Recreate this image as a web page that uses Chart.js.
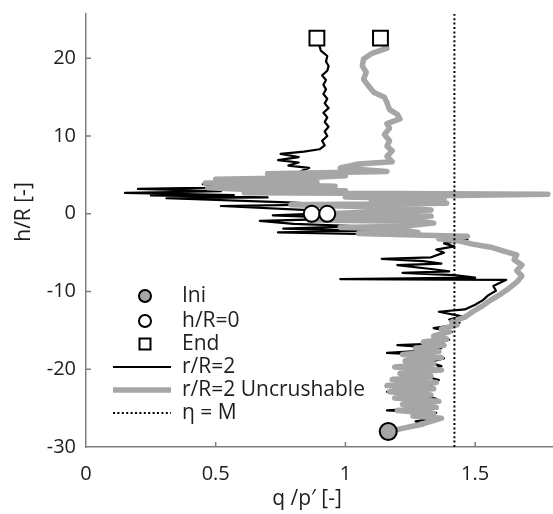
<!DOCTYPE html>
<html>
<head>
<meta charset="utf-8">
<script src="https://cdn.jsdelivr.net/npm/chart.js@4/dist/chart.umd.min.js"></script>
<style>
  html, body { margin: 0; padding: 0; background: #ffffff; }
  canvas { display: block; }
</style>
</head>
<body>
<canvas id="chart" width="553" height="514"></canvas>
<script>
// Stress ratio q/p' against normalised height h/R, pile with r/R = 2
const crushQ = [1.16,1.22,1.30,1.27,1.34,1.29,1.35,1.16,1.27,1.33,1.28,1.35,1.30,1.16,1.27,1.34,1.29,1.36,1.31,1.21,
  1.33,1.37,1.32,1.38,1.33,1.16,1.31,1.37,1.20,1.35,1.40,1.36,1.41,1.34,1.40,1.44,1.40,1.45,1.36,1.46,
  1.50,1.53,1.55,1.58,1.57,1.60,1.62,0.98,1.50,1.42,1.22,1.40,1.33,1.20,1.37,1.30,1.14,1.33,1.38,1.35,
  1.42,1.38,1.47,1.41,1.19,0.74,1.10,0.76,1.06,0.80,0.67,1.04,0.72,0.87,0.90,0.52,0.95,0.75,0.31,0.70,
  0.25,0.57,0.15,0.52,0.20,0.55,0.45,0.62,0.80,0.86,0.90,0.83,0.86,0.78,0.82,0.74,0.82,0.75,0.84,0.90,
  0.92,0.91,0.93,0.92,0.935,0.92,0.93,0.915,0.935,0.92,0.93,0.915,0.925,0.915,0.925,0.91,0.93,0.935,0.925,0.93,
  0.905,0.90,0.89];
const crushH = [-28.0,-27.7,-27.2,-26.7,-26.3,-25.9,-25.6,-25.3,-25.1,-24.7,-24.2,-23.8,-23.4,-22.9,-22.7,-22.3,-21.8,-21.4,-20.9,-20.4,
  -20.1,-19.6,-19.1,-18.6,-18.2,-17.9,-17.6,-17.3,-16.9,-16.7,-16.2,-15.7,-15.2,-14.7,-14.4,-14.0,-13.6,-13.2,-12.6,-12.3,
  -11.7,-11.1,-10.5,-9.9,-9.3,-8.8,-8.5,-8.4,-8.2,-7.9,-7.6,-7.4,-7.1,-6.6,-6.4,-6.1,-5.8,-5.6,-5.0,-4.6,
  -4.2,-3.8,-3.3,-3.0,-2.7,-2.4,-2.2,-1.9,-1.6,-1.3,-0.9,-0.6,-0.2,0.0,0.4,1.0,1.2,1.5,2.0,2.1,
  2.35,2.4,2.7,2.9,3.2,3.4,3.8,4.1,4.4,4.8,5.2,5.5,5.9,6.2,6.6,6.9,7.3,7.7,8.0,8.3,
  8.8,9.4,10.0,10.6,11.2,11.8,12.4,13.0,13.6,14.2,14.8,15.4,16.0,16.6,17.2,17.8,18.4,19.0,19.6,20.3,
  21.0,21.6,22.6];

// Same pile, uncrushable soil
const uncrushQ = [1.165,1.22,1.29,1.33,1.37,1.26,1.34,1.20,1.35,1.22,1.36,1.19,1.33,1.17,1.34,1.16,1.35,1.18,1.33,1.21,
  1.37,1.19,1.34,1.23,1.37,1.22,1.36,1.27,1.38,1.30,1.39,1.34,1.40,1.37,1.43,1.41,1.46,1.49,1.53,1.56,
  1.60,1.63,1.66,1.68,1.66,1.68,1.65,1.66,1.61,1.56,1.49,1.44,1.36,1.47,1.30,1.05,1.28,1.18,0.98,1.22,
  1.34,1.30,0.86,1.15,1.33,0.93,1.05,1.33,1.20,0.79,1.39,1.10,1.38,1.00,1.78,1.20,0.61,1.00,0.60,0.47,
  0.96,0.75,0.46,0.89,0.70,0.50,0.84,1.00,0.70,1.16,0.98,1.05,1.18,1.16,1.18,1.16,1.17,1.15,1.17,1.16,
  1.21,1.20,1.17,1.16,1.15,1.11,1.09,1.07,1.08,1.065,1.07,1.10,1.16,1.135];
const uncrushH = [-28.0,-27.6,-27.1,-26.7,-26.3,-26.0,-25.7,-25.3,-24.9,-24.5,-24.1,-23.7,-23.3,-22.9,-22.5,-22.1,-21.7,-21.3,-20.9,-20.5,
  -20.1,-19.7,-19.3,-18.9,-18.5,-18.1,-17.7,-17.3,-16.9,-16.5,-16.1,-15.7,-15.2,-14.8,-14.3,-13.9,-13.3,-12.6,-11.8,-11.1,
  -10.3,-9.6,-8.8,-8.0,-7.3,-6.6,-5.9,-5.3,-4.8,-4.3,-3.9,-3.5,-3.2,-2.9,-2.75,-2.55,-2.4,-1.9,-1.75,-1.6,
  -1.2,-1.0,-0.8,-0.6,-0.3,0.0,0.15,0.5,0.8,1.15,1.35,1.7,1.9,2.15,2.5,2.6,2.7,2.95,3.15,3.35,
  3.55,3.75,3.95,4.1,4.3,4.45,4.65,4.9,5.15,5.45,5.9,6.4,6.7,7.4,8.1,8.7,9.4,10.2,11.0,11.6,
  12.2,12.8,13.4,14.3,15.0,15.6,16.4,17.3,18.2,19.0,19.9,20.6,21.3,22.6];

// Marker points: initial state, crossing h/R = 0, end of installation
const iniQ = [1.165];
const iniH = [-28.0];
const zeroQ = [0.87, 0.93];
const zeroH = [0, 0];
const endQ = [0.89, 1.135];
const endH = [22.6, 22.6];

// Critical state stress ratio M
const critM = 1.42;

// Axis ranges and tick labels
const xTicks = [0, 0.5, 1, 1.5];
const yTicks = [-30, -20, -10, 0, 10, 20];
const xRange = [0, 1.8];
const yRange = [-30, 25.7];

const legendItems = ['Ini', 'h/R=0', 'End', 'r/R=2', 'r/R=2 Uncrushable', 'η = M'];

const FONT = "'Open Sans', 'DejaVu Sans', sans-serif";
const TEXT = '#1e1e1e';
const AXIS = '#7f7f7f';
const GREY = '#a6a6a6';

const pts = (qs, hs) => qs.map((q, i) => ({ x: q, y: hs[i] }));

// Inward tick marks, axis titles and the legend box
const decorations = {
  id: 'decorations',
  afterDatasetsDraw(chart) {
    const { ctx, scales: { x, y } } = chart;
    const area = chart.chartArea;
    ctx.save();
    ctx.strokeStyle = AXIS;
    ctx.lineWidth = 1.5;
    ctx.beginPath();
    xTicks.forEach(v => {
      if (v === xRange[0]) return;
      const px = x.getPixelForValue(v);
      ctx.moveTo(px, area.bottom);
      ctx.lineTo(px, area.bottom - 5);
    });
    yTicks.forEach(v => {
      if (v === yRange[0]) return;
      const py = y.getPixelForValue(v);
      ctx.moveTo(area.left, py);
      ctx.lineTo(area.left + 5, py);
    });
    ctx.stroke();

    // Axis titles
    ctx.fillStyle = TEXT;
    ctx.font = '21px ' + FONT;
    ctx.textAlign = 'center';
    ctx.textBaseline = 'middle';
    ctx.fillText('q /p′ [-]', 307, 499);
    ctx.save();
    ctx.translate(24, 212);
    ctx.rotate(-Math.PI / 2);
    ctx.fillText('h/R [-]', 0, 0);
    ctx.restore();

    // Legend
    const symX = 145, lineL = 113, lineR = 171, textX = 182;
    const rows = [296, 321, 344, 367, 390, 413];
    ctx.lineWidth = 2;
    ctx.strokeStyle = '#000';
    // Ini
    ctx.beginPath(); ctx.arc(symX, rows[0], 6, 0, Math.PI * 2);
    ctx.fillStyle = GREY; ctx.fill(); ctx.stroke();
    // h/R=0
    ctx.beginPath(); ctx.arc(symX, rows[1], 6, 0, Math.PI * 2);
    ctx.fillStyle = '#fff'; ctx.fill(); ctx.stroke();
    // End
    ctx.beginPath(); ctx.rect(symX - 5.5, rows[2] - 5.5, 11, 11);
    ctx.fillStyle = '#fff'; ctx.fill(); ctx.stroke();
    // r/R=2
    ctx.beginPath(); ctx.moveTo(lineL, rows[3]); ctx.lineTo(lineR, rows[3]);
    ctx.strokeStyle = '#000'; ctx.lineWidth = 2; ctx.stroke();
    // Uncrushable
    ctx.beginPath(); ctx.moveTo(lineL, rows[4]); ctx.lineTo(lineR, rows[4]);
    ctx.strokeStyle = GREY; ctx.lineWidth = 5.5; ctx.stroke();
    // eta = M
    ctx.beginPath(); ctx.setLineDash([2, 2.4]); ctx.moveTo(lineL, rows[5]); ctx.lineTo(lineR, rows[5]);
    ctx.strokeStyle = '#000'; ctx.lineWidth = 2; ctx.stroke(); ctx.setLineDash([]);

    ctx.fillStyle = TEXT;
    ctx.font = '21px ' + FONT;
    ctx.textAlign = 'left';
    ctx.textBaseline = 'middle';
    legendItems.forEach((t, i) => ctx.fillText(t, textX, rows[i]));
    ctx.restore();
  }
};

new Chart(document.getElementById('chart'), {
  type: 'scatter',
  data: {
    datasets: [
      {
        label: 'h/R=0', data: pts(zeroQ, zeroH), order: 0,
        pointStyle: 'circle', pointRadius: 8, pointBackgroundColor: '#fff',
        pointBorderColor: '#000', pointBorderWidth: 2, showLine: false
      },
      {
        label: 'End', data: pts(endQ, endH), order: 0,
        pointStyle: 'rect', pointRadius: 10.5, pointBackgroundColor: '#fff',
        pointBorderColor: '#000', pointBorderWidth: 2, showLine: false
      },
      {
        label: 'Ini', data: pts(iniQ, iniH), order: 0,
        pointStyle: 'circle', pointRadius: 8.5, pointBackgroundColor: GREY,
        pointBorderColor: '#000', pointBorderWidth: 2, showLine: false
      },
      {
        label: 'η = M', data: [{ x: critM, y: yRange[0] }, { x: critM, y: yRange[1] }], order: 1,
        showLine: true, borderColor: '#000', borderWidth: 2, borderDash: [2, 2.4],
        pointRadius: 0, fill: false
      },
      {
        label: 'r/R=2 Uncrushable', data: pts(uncrushQ, uncrushH), order: 2,
        showLine: true, borderColor: GREY, borderWidth: 5.5, pointRadius: 0,
        tension: 0, fill: false, borderJoinStyle: 'round', borderCapStyle: 'round'
      },
      {
        label: 'r/R=2', data: pts(crushQ, crushH), order: 3,
        showLine: true, borderColor: '#000', borderWidth: 2.2, pointRadius: 0,
        tension: 0, fill: false, borderJoinStyle: 'round'
      }
    ]
  },
  options: {
    responsive: false,
    devicePixelRatio: 1,
    animation: false,
    clip: false,
    layout: { autoPadding: false, padding: { top: 14, right: 0, left: 0, bottom: 0 } },
    plugins: { legend: { display: false }, tooltip: { enabled: false } },
    scales: {
      x: {
        type: 'linear', min: xRange[0], max: xRange[1],
        afterBuildTicks: s => { s.ticks = xTicks.map(v => ({ value: v })); },
        afterFit: s => { s.height = 67; s.paddingLeft = 0; s.paddingRight = 0; },
        grid: { display: false, drawTicks: false },
        border: { display: true, color: AXIS, width: 1.5 },
        ticks: { color: TEXT, font: { family: FONT, size: 20 }, padding: 15, maxRotation: 0,
          callback: v => String(v) }
      },
      y: {
        type: 'linear', min: yRange[0], max: yRange[1],
        afterBuildTicks: s => { s.ticks = yTicks.map(v => ({ value: v })); },
        afterFit: s => { s.width = 86; s.paddingTop = 0; s.paddingBottom = 0; },
        grid: { display: false, drawTicks: false },
        border: { display: true, color: AXIS, width: 1.5 },
        ticks: { color: TEXT, font: { family: FONT, size: 20 }, padding: 10,
          callback: v => String(v) }
      }
    }
  },
  plugins: [decorations]
});
</script>
</body>
</html>
